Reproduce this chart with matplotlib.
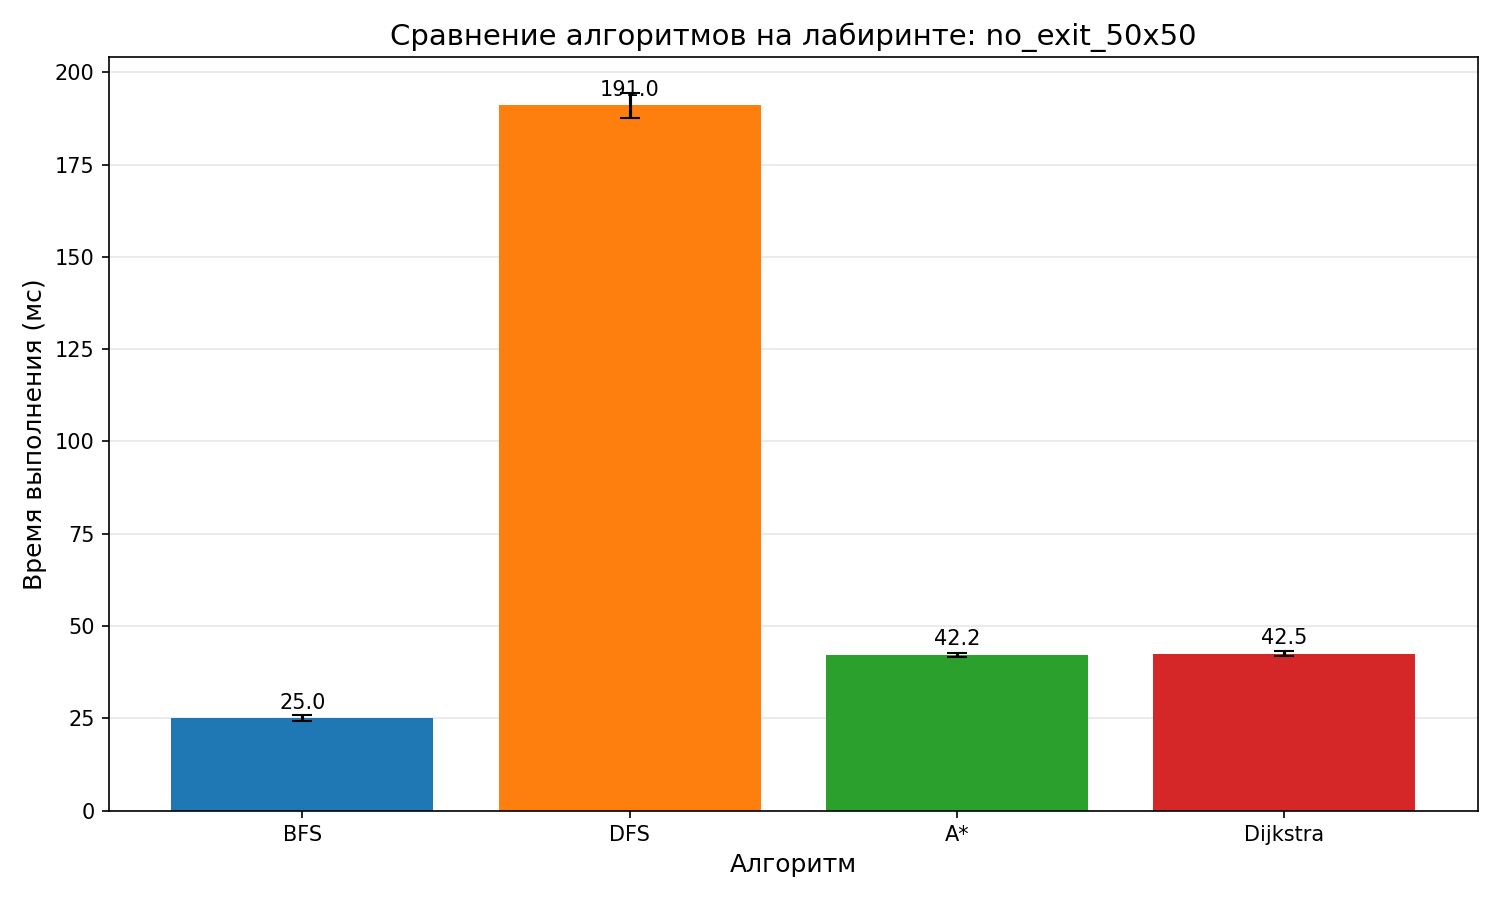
import matplotlib
matplotlib.use("Agg")
import matplotlib.pyplot as plt

algorithms = ["BFS", "DFS", "A*", "Dijkstra"]
times_ms = [25.0, 191.0, 42.2, 42.5]
std_ms = [0.8, 3.3, 0.5, 0.6]
colors = ["#1f77b4", "#ff7f0e", "#2ca02c", "#d62728"]

fig, ax = plt.subplots(figsize=(10, 6), dpi=150)
bars = ax.bar(algorithms, times_ms, yerr=std_ms, capsize=5, color=colors)
for b, v in zip(bars, times_ms):
    ax.text(b.get_x() + b.get_width() / 2, v + 1.5, f"{v:.1f}",
            ha="center", va="bottom", fontsize=10)
ax.set_title("Сравнение алгоритмов на лабиринте: no_exit_50x50", fontsize=14)
ax.set_xlabel("Алгоритм", fontsize=12)
ax.set_ylabel("Время выполнения (мс)", fontsize=12)
ax.grid(axis="y", alpha=0.3)
ax.set_axisbelow(True)
fig.tight_layout()
fig.savefig("out.png")
